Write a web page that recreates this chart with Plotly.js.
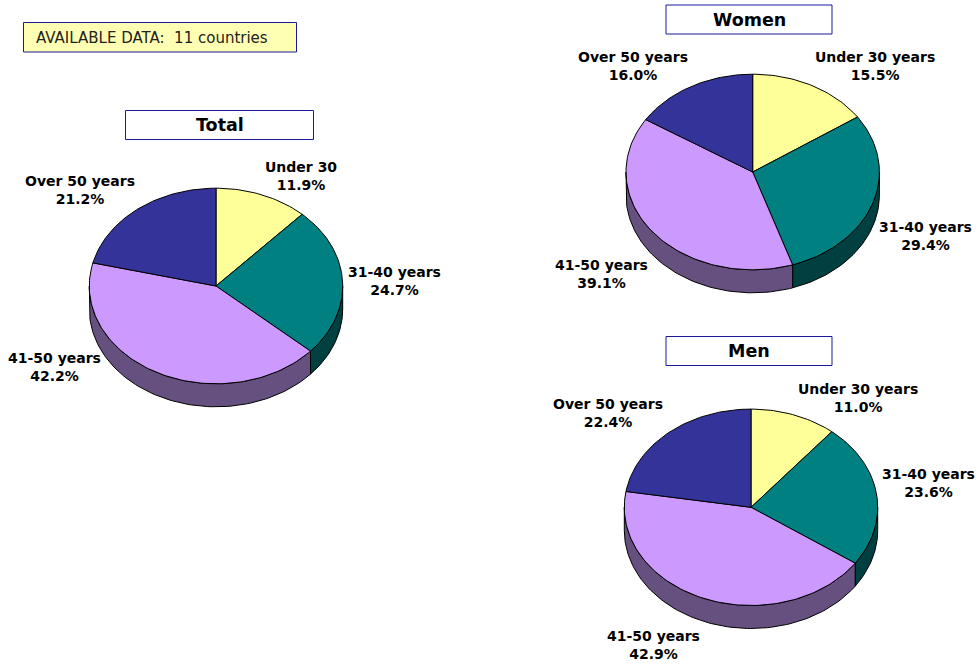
<!DOCTYPE html>
<html>
<head>
<meta charset="utf-8">
<script src="https://cdn.plot.ly/plotly-3.0.1.min.js"></script>
<style>html,body{margin:0;padding:0;background:#fff}#chart{width:980px;height:664px}</style>
</head>
<body>
<div id="chart"></div>
<script>
// ---- data ----
const noteText = "AVAILABLE DATA:  11 countries";
const panelNames = ["Total", "Women", "Men"];
const totalLabels = ["Under 30", "31-40 years", "41-50 years", "Over 50 years"];
const groupLabels = ["Under 30 years", "31-40 years", "41-50 years", "Over 50 years"];
const totalValues = [11.9, 24.7, 42.2, 21.2];
const womenValues = [15.5, 29.4, 39.1, 16.0];
const menValues = [11.0, 23.6, 42.9, 22.4];

// ---- styles ----
const topColors = ["#FFFF99", "#008080", "#CC99FF", "#333399"];
const wallColors = ["#80804D", "#004040", "#665080", "#1A1A4D"];
const FONT = "DejaVu Sans, Verdana, sans-serif";
const BORDER = "#1A1A99";

// ---- placement (pixels of the 980x664 page) ----
const panels = [
  {name: panelNames[0], labels: totalLabels, values: totalValues,
   cx: 216, cy: 286, rx: 126.7, ry: 97.8, depth: 23,
   box: [125.5, 110.5, 313.5, 139.5],
   labelAt: [[301, 175.5], [394, 281], [54, 367], [80, 190]]},
  {name: panelNames[1], labels: groupLabels, values: womenValues,
   cx: 752.7, cy: 172, rx: 126.7, ry: 97.8, depth: 23,
   box: [666, 5, 832, 34],
   labelAt: [[875, 66], [925, 236], [601, 274], [633, 66]]},
  {name: panelNames[2], labels: groupLabels, values: menValues,
   cx: 751, cy: 507.3, rx: 126.7, ry: 98.2, depth: 23,
   box: [666, 336.5, 832, 365.5],
   labelAt: [[858, 398], [928, 483], [653, 645], [608, 413]]}
];

const traces = [], shapes = [], annotations = [];

function arc(p, a0, a1, dy) {
  const n = Math.max(2, Math.ceil(Math.abs(a1 - a0) / 1.5));
  const xs = [], ys = [];
  for (let i = 0; i <= n; i++) {
    const t = (a0 + (a1 - a0) * i / n) * Math.PI / 180;
    xs.push(p.cx + p.rx * Math.sin(t));
    ys.push(p.cy - p.ry * Math.cos(t) + dy);
  }
  return [xs, ys];
}
function area(xs, ys, fill) {
  traces.push({type: "scatter", mode: "lines", x: xs, y: ys, fill: "toself",
    fillcolor: fill, line: {color: "#000", width: 1}, hoverinfo: "skip", showlegend: false});
}

panels.forEach(p => {
  const sum = p.values.reduce((a, b) => a + b, 0);
  const angles = [0];
  p.values.forEach(v => angles.push(angles[angles.length - 1] + v / sum * 360));

  // side walls: only the front half of the rim shows
  p.values.forEach((v, i) => {
    const a0 = Math.max(angles[i], 90), a1 = Math.min(angles[i + 1], 270);
    if (a1 <= a0) return;
    const [tx, ty] = arc(p, a0, a1, 0);
    const [bx, by] = arc(p, a1, a0, p.depth);
    area(tx.concat(bx, [tx[0]]), ty.concat(by, [ty[0]]), wallColors[i]);
  });
  // top face
  p.values.forEach((v, i) => {
    const [ax, ay] = arc(p, angles[i], angles[i + 1], 0);
    area([p.cx].concat(ax, [p.cx]), [p.cy].concat(ay, [p.cy]), topColors[i]);
  });
  // slice labels
  p.labels.forEach((lab, i) => {
    annotations.push({x: p.labelAt[i][0], y: p.labelAt[i][1], xref: "x", yref: "y",
      text: lab + "<br>" + p.values[i].toFixed(1) + "%", showarrow: false,
      xanchor: "center", yanchor: "middle", align: "center",
      font: {family: FONT, size: 14, color: "#000", weight: 700}});
  });
  // title box
  shapes.push({type: "rect", xref: "x", yref: "y", x0: p.box[0], y0: p.box[1], x1: p.box[2], y1: p.box[3],
    fillcolor: "#fff", line: {color: BORDER, width: 1}, layer: "above"});
  annotations.push({x: (p.box[0] + p.box[2]) / 2, y: (p.box[1] + p.box[3]) / 2, xref: "x", yref: "y",
    text: p.name, showarrow: false, xanchor: "center", yanchor: "middle",
    font: {family: FONT, size: 17.5, color: "#000", weight: 700}});
});

// note box
shapes.push({type: "rect", xref: "x", yref: "y", x0: 23.5, y0: 22.5, x1: 296.5, y1: 52,
  fillcolor: "#FFFFB3", line: {color: BORDER, width: 1}, layer: "above"});
annotations.push({x: 34, y: 37.5, xref: "x", yref: "y", text: noteText, showarrow: false,
  xanchor: "left", yanchor: "middle", font: {family: FONT, size: 15, color: "#222"}});

Plotly.newPlot("chart", traces, {
  width: 980, height: 664,
  margin: {l: 0, r: 0, t: 0, b: 0},
  paper_bgcolor: "#fff", plot_bgcolor: "#fff",
  showlegend: false,
  xaxis: {range: [0, 980], visible: false, fixedrange: true},
  yaxis: {range: [664, 0], visible: false, fixedrange: true},
  shapes: shapes, annotations: annotations
}, {displayModeBar: false, staticPlot: true});
</script>
</body>
</html>
